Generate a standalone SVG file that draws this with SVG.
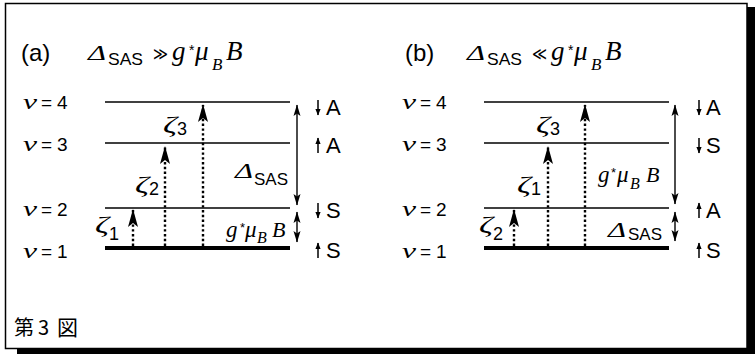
<svg xmlns="http://www.w3.org/2000/svg" width="755" height="354" viewBox="0 0 755 354">
<style>
.lv{stroke:#000;stroke-width:1.5;fill:none}
.lv1{stroke:#000;stroke-width:4;fill:none}
.dot{stroke:#000;stroke-width:2.4;stroke-dasharray:2.4 2.4;fill:none}
.ar{stroke:#000;stroke-width:1.4;fill:none}
.sp{stroke:#000;stroke-width:1.5;fill:none}
.s{font-family:"Liberation Sans",Arial,sans-serif}
.m{font-family:"Liberation Serif","Times New Roman",serif;font-style:italic}
.rel{font-family:"DejaVu Sans",sans-serif}
.nuv{font-size:22px}
.nud{font-size:19px}
.rl{font-size:22px}
.z{font-size:24px}
.zs{font-size:18px}
</style>
<defs>
<marker id="hd" markerUnits="userSpaceOnUse" markerWidth="20" markerHeight="12" viewBox="-18 -6 20 12" refX="0" refY="0" orient="auto">
<path d="M1,0 L-17,-5 L-13,0 L-17,5 z" fill="#000"/>
</marker>
<marker id="sh" markerUnits="userSpaceOnUse" markerWidth="14" markerHeight="8" viewBox="-12 -4 13 8" refX="0" refY="0" orient="auto-start-reverse">
<path d="M0.5,0 L-11,-3.5 L-8.5,0 L-11,3.5 z" fill="#000"/>
</marker>
<marker id="sp" markerUnits="userSpaceOnUse" markerWidth="8" markerHeight="6" viewBox="-7 -3 8 6" refX="0" refY="0" orient="auto">
<path d="M0.5,0 L-6,-2.6 L-6,2.6 z" fill="#000"/>
</marker>
</defs>
<rect x="0" y="0" width="755" height="354" fill="#fff"/>
<g id="frame">
<rect x="747" y="7" width="8" height="347" fill="#000"/>
<rect x="17" y="349" width="738" height="5" fill="#000"/>
<rect x="5.5" y="3.5" width="741.5" height="345" fill="none" stroke="#000" stroke-width="1.5"/>
</g>

<g id="panel-a">
<g id="title-a">
<text class="s" font-size="24" x="21" y="61">(a)</text>
<text class="m" font-size="22" x="88" y="60" textLength="18" lengthAdjust="spacingAndGlyphs">Δ</text>
<text class="s" font-size="17" x="108" y="65" textLength="35" lengthAdjust="spacingAndGlyphs">SAS</text>
<text class="rel" font-size="18" x="153" y="60" textLength="15" lengthAdjust="spacingAndGlyphs">≫</text>
<text class="m" font-size="27" x="172" y="60">g</text>
<text class="s" font-size="14" x="189" y="55">*</text>
<text class="m" font-size="27" x="195" y="60">μ</text>
<text class="m" font-size="17" x="212" y="70">B</text>
<text class="m" font-size="27" x="226" y="60">B</text>
</g>
<g id="levels-a">
<line class="lv" x1="105" y1="102" x2="290" y2="102"/>
<line class="lv" x1="105" y1="143" x2="290" y2="143"/>
<line class="lv" x1="105" y1="208" x2="290" y2="208"/>
<line class="lv1" x1="105" y1="248" x2="290" y2="248"/>
</g>
<g id="nu-a">
<text y="109"><tspan class="m nuv" x="23" textLength="14" lengthAdjust="spacingAndGlyphs">ν</tspan><tspan class="s nud" x="41">=</tspan><tspan class="s nud" x="57">4</tspan></text>
<text y="151"><tspan class="m nuv" x="23" textLength="14" lengthAdjust="spacingAndGlyphs">ν</tspan><tspan class="s nud" x="41">=</tspan><tspan class="s nud" x="57">3</tspan></text>
<text y="216"><tspan class="m nuv" x="23" textLength="14" lengthAdjust="spacingAndGlyphs">ν</tspan><tspan class="s nud" x="41">=</tspan><tspan class="s nud" x="57">2</tspan></text>
<text y="258"><tspan class="m nuv" x="23" textLength="14" lengthAdjust="spacingAndGlyphs">ν</tspan><tspan class="s nud" x="41">=</tspan><tspan class="s nud" x="57">1</tspan></text>
</g>
<g id="states-a">
<line class="sp" x1="318" y1="100" x2="318" y2="115" marker-end="url(#sp)"/>
<text class="s rl" x="326" y="115">A</text>
<line class="sp" x1="318" y1="153" x2="318" y2="138" marker-end="url(#sp)"/>
<text class="s rl" x="326" y="153">A</text>
<line class="sp" x1="318" y1="203" x2="318" y2="218" marker-end="url(#sp)"/>
<text class="s rl" x="326" y="218">S</text>
<line class="sp" x1="318" y1="258" x2="318" y2="243" marker-end="url(#sp)"/>
<text class="s rl" x="326" y="258">S</text>
</g>
<g id="zeta-a">
<text><tspan class="m z" x="163" y="132" textLength="14" lengthAdjust="spacingAndGlyphs">ζ</tspan><tspan class="s zs" x="177" y="135">3</tspan></text>
<text><tspan class="m z" x="135" y="192" textLength="14" lengthAdjust="spacingAndGlyphs">ζ</tspan><tspan class="s zs" x="149" y="195">2</tspan></text>
<text><tspan class="m z" x="95" y="232" textLength="14" lengthAdjust="spacingAndGlyphs">ζ</tspan><tspan class="s zs" x="109" y="240">1</tspan></text>
</g>
<g id="gap-labels-a">
<text><tspan class="m" font-size="22" x="235" y="178" textLength="18" lengthAdjust="spacingAndGlyphs">Δ</tspan><tspan class="s" font-size="17" x="254" y="185" textLength="34" lengthAdjust="spacingAndGlyphs">SAS</tspan></text>
<text><tspan class="m" font-size="23" x="226" y="237">g</tspan><tspan class="s" font-size="13" x="240" y="232">*</tspan><tspan class="m" font-size="23" x="245" y="237">μ</tspan><tspan class="m" font-size="16" x="257" y="243">B</tspan><tspan class="m" font-size="22" x="272" y="237">B</tspan></text>
</g>
</g>

<g id="panel-b">
<g id="title-b">
<text class="s" font-size="24" x="405" y="61">(b)</text>
<text class="m" font-size="22" x="467" y="60" textLength="18" lengthAdjust="spacingAndGlyphs">Δ</text>
<text class="s" font-size="17" x="487" y="65" textLength="35" lengthAdjust="spacingAndGlyphs">SAS</text>
<text class="rel" font-size="18" x="532" y="60" textLength="15" lengthAdjust="spacingAndGlyphs">≪</text>
<text class="m" font-size="27" x="551" y="60">g</text>
<text class="s" font-size="14" x="568" y="55">*</text>
<text class="m" font-size="27" x="574" y="60">μ</text>
<text class="m" font-size="17" x="591" y="70">B</text>
<text class="m" font-size="27" x="605" y="60">B</text>
</g>
<g id="levels-b">
<line class="lv" x1="484" y1="102" x2="669" y2="102"/>
<line class="lv" x1="484" y1="143" x2="669" y2="143"/>
<line class="lv" x1="484" y1="208" x2="669" y2="208"/>
<line class="lv1" x1="484" y1="248" x2="669" y2="248"/>
</g>
<g id="nu-b">
<text y="109"><tspan class="m nuv" x="402" textLength="14" lengthAdjust="spacingAndGlyphs">ν</tspan><tspan class="s nud" x="420">=</tspan><tspan class="s nud" x="436">4</tspan></text>
<text y="151"><tspan class="m nuv" x="402" textLength="14" lengthAdjust="spacingAndGlyphs">ν</tspan><tspan class="s nud" x="420">=</tspan><tspan class="s nud" x="436">3</tspan></text>
<text y="216"><tspan class="m nuv" x="402" textLength="14" lengthAdjust="spacingAndGlyphs">ν</tspan><tspan class="s nud" x="420">=</tspan><tspan class="s nud" x="436">2</tspan></text>
<text y="258"><tspan class="m nuv" x="402" textLength="14" lengthAdjust="spacingAndGlyphs">ν</tspan><tspan class="s nud" x="420">=</tspan><tspan class="s nud" x="436">1</tspan></text>
</g>
<g id="states-b">
<line class="sp" x1="699" y1="100" x2="699" y2="115" marker-end="url(#sp)"/>
<text class="s rl" x="706" y="115">A</text>
<line class="sp" x1="699" y1="138" x2="699" y2="153" marker-end="url(#sp)"/>
<text class="s rl" x="706" y="153">S</text>
<line class="sp" x1="699" y1="218" x2="699" y2="203" marker-end="url(#sp)"/>
<text class="s rl" x="706" y="218">A</text>
<line class="sp" x1="699" y1="258" x2="699" y2="243" marker-end="url(#sp)"/>
<text class="s rl" x="706" y="258">S</text>
</g>
<g id="zeta-b">
<text><tspan class="m z" x="536" y="132" textLength="14" lengthAdjust="spacingAndGlyphs">ζ</tspan><tspan class="s zs" x="550" y="135">3</tspan></text>
<text><tspan class="m z" x="517" y="192" textLength="14" lengthAdjust="spacingAndGlyphs">ζ</tspan><tspan class="s zs" x="531" y="195">1</tspan></text>
<text><tspan class="m z" x="479" y="232" textLength="14" lengthAdjust="spacingAndGlyphs">ζ</tspan><tspan class="s zs" x="493" y="240">2</tspan></text>
</g>
<g id="gap-labels-b">
<text><tspan class="m" font-size="23" x="598" y="182">g</tspan><tspan class="s" font-size="13" x="611" y="177">*</tspan><tspan class="m" font-size="23" x="617" y="182">μ</tspan><tspan class="m" font-size="16" x="630" y="189">B</tspan><tspan class="m" font-size="22" x="646" y="182">B</tspan></text>
<text><tspan class="m" font-size="22" x="608" y="237" textLength="18" lengthAdjust="spacingAndGlyphs">Δ</tspan><tspan class="s" font-size="17" x="628" y="240" textLength="34" lengthAdjust="spacingAndGlyphs">SAS</tspan></text>
</g>
</g>

<g id="connectors">
<line class="dot" x1="203" y1="246" x2="203" y2="105" marker-end="url(#hd)"/>
<line class="dot" x1="165" y1="246" x2="165" y2="147" marker-end="url(#hd)"/>
<line class="dot" x1="133" y1="246" x2="133" y2="210" marker-end="url(#hd)"/>
<line class="ar" x1="297" y1="105" x2="297" y2="205" marker-start="url(#sh)" marker-end="url(#sh)"/>
<line class="ar" x1="297" y1="212" x2="297" y2="242" marker-start="url(#sh)" marker-end="url(#sh)"/>
<line class="dot" x1="585" y1="246" x2="585" y2="105" marker-end="url(#hd)"/>
<line class="dot" x1="548" y1="246" x2="548" y2="147" marker-end="url(#hd)"/>
<line class="dot" x1="514" y1="246" x2="514" y2="210" marker-end="url(#hd)"/>
<line class="ar" x1="675" y1="105" x2="675" y2="204" marker-start="url(#sh)" marker-end="url(#sh)"/>
<line class="ar" x1="675" y1="212" x2="675" y2="241" marker-start="url(#sh)" marker-end="url(#sh)"/>
</g>

<g id="caption">
<text font-family="'Noto Sans CJK JP',sans-serif" font-size="20" y="335"><tspan x="14">第</tspan><tspan x="38">3</tspan><tspan x="57" font-size="21">図</tspan></text>
</g>
</svg>
